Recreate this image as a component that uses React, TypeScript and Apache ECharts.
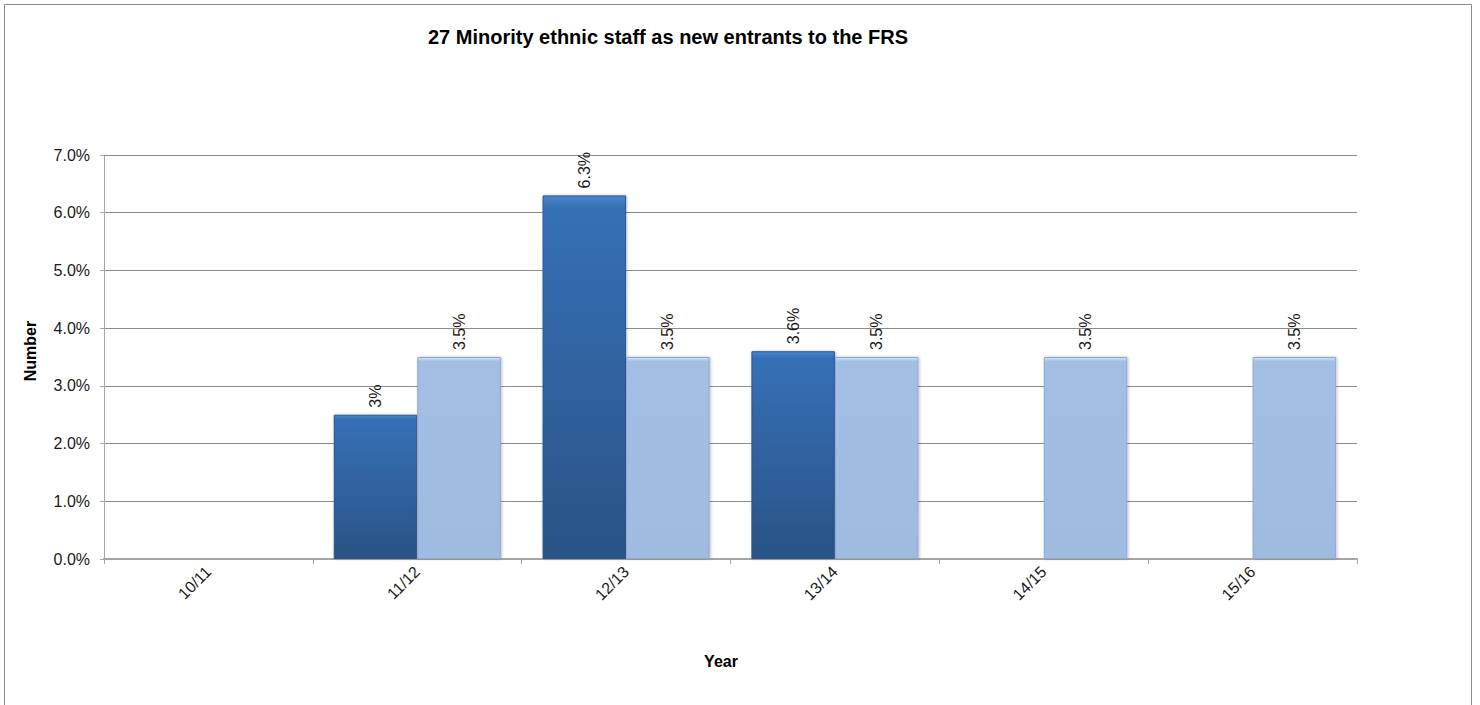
import React, { useEffect, useRef } from "react";
import * as echarts from "echarts";

// Financial years on the category axis
const years = ["10/11", "11/12", "12/13", "13/14", "14/15", "15/16"];
// Minority ethnic staff as a share of new entrants (%), null where no figure
const actualShare: (number | null)[] = [null, 2.5, 6.3, 3.6, null, null];
// Decimal places shown in each actual-value label
const actualDecimals: (number | null)[] = [null, 0, 1, 1, null, null];
// Target share (%)
const targetShare: (number | null)[] = [null, 3.5, 3.5, 3.5, 3.5, 3.5];
// Y axis range (%)
const yMin = 0;
const yMax = 7;
const yStep = 1;

const FONT = "Liberation Sans, Arial, sans-serif";

export default function App() {
  const ref = useRef<HTMLDivElement>(null);

  useEffect(() => {
    if (!ref.current) return;
    const chart = echarts.init(ref.current, undefined, { renderer: "svg" });

    const barLabel = (decimals: (number | null)[] | number) => ({
      show: true,
      position: "top" as const,
      rotate: 90,
      align: "left" as const,
      verticalAlign: "middle" as const,
      distance: 7,
      fontFamily: FONT,
      fontSize: 16,
      color: "#1a1a1a",
      formatter: (p: any) => {
        if (p.value == null) return "";
        const d = typeof decimals === "number" ? decimals : decimals[p.dataIndex] ?? 1;
        return Number(p.value).toFixed(d) + "%";
      },
    });

    chart.setOption({
      animation: false,
      backgroundColor: "#ffffff",
      textStyle: { fontFamily: FONT },
      graphic: [
        {
          type: "rect",
          silent: true,
          shape: { x: 4.5, y: 4.5, width: 1467, height: 720 },
          style: { fill: "none", stroke: "#8c8c8c", lineWidth: 1 },
        },
        {
          type: "text",
          x: 668,
          y: 37,
          style: {
            text: "27 Minority ethnic staff as new entrants to the FRS",
            align: "center",
            verticalAlign: "middle",
            font: `bold 20px ${FONT}`,
            fill: "#000000",
          },
        },
        {
          type: "text",
          x: 30,
          y: 351,
          rotation: Math.PI / 2,
          style: {
            text: "Number",
            align: "center",
            verticalAlign: "middle",
            font: `bold 16px ${FONT}`,
            fill: "#000000",
          },
        },
        {
          type: "text",
          x: 721,
          y: 661,
          style: {
            text: "Year",
            align: "center",
            verticalAlign: "middle",
            font: `bold 16px ${FONT}`,
            fill: "#000000",
          },
        },
      ],
      grid: { left: 104, right: 123, top: 155, bottom: 146, containLabel: false },
      xAxis: {
        type: "category",
        data: years,
        axisLine: { show: true, lineStyle: { color: "#a6a6a6", width: 2 } },
        axisTick: { show: true, length: 5, alignWithLabel: false, lineStyle: { color: "#a6a6a6" } },
        axisLabel: {
          rotate: 45,
          margin: 10,
          fontFamily: FONT,
          fontSize: 16,
          color: "#1a1a1a",
        },
        splitLine: { show: false },
      },
      yAxis: {
        type: "value",
        min: yMin,
        max: yMax,
        interval: yStep,
        axisLine: { show: true, lineStyle: { color: "#a6a6a6", width: 1 } },
        axisTick: { show: true, length: 4, lineStyle: { color: "#a6a6a6" } },
        axisLabel: {
          margin: 14,
          fontFamily: FONT,
          fontSize: 16,
          color: "#1a1a1a",
          formatter: (v: number) => v.toFixed(1) + "%",
        },
        splitLine: { show: true, lineStyle: { color: "#8c8c8c", width: 1 } },
      },
      series: [
        {
          name: "Actual",
          type: "bar",
          data: actualShare,
          barGap: "0%",
          barCategoryGap: "20%",
          itemStyle: {
            color: new echarts.graphic.LinearGradient(0, 0, 0, 1, [
              { offset: 0, color: "#4a86cf" },
              { offset: 0.03, color: "#3670b6" },
              { offset: 1, color: "#2a5286" },
            ]),
            borderColor: "#2a5590",
            borderWidth: 1,
            shadowColor: "rgba(0,0,0,0.25)",
            shadowBlur: 3,
            shadowOffsetX: 1,
          },
          label: barLabel(actualDecimals),
        },
        {
          name: "Target",
          type: "bar",
          data: targetShare,
          barGap: "0%",
          barCategoryGap: "20%",
          itemStyle: {
            color: new echarts.graphic.LinearGradient(0, 0, 0, 1, [
              { offset: 0, color: "#cfe3f8" },
              { offset: 0.02, color: "#a3bfe3" },
              { offset: 1, color: "#9fbbe0" },
            ]),
            borderColor: "#8fa9cc",
            borderWidth: 1,
            shadowColor: "rgba(0,0,0,0.25)",
            shadowBlur: 3,
            shadowOffsetX: 1,
          },
          label: barLabel(1),
        },
      ],
    });

    return () => chart.dispose();
  }, []);

  return (
    <div
      ref={ref}
      style={{ position: "absolute", left: 0, top: 0, width: 1480, height: 705 }}
    />
  );
}
